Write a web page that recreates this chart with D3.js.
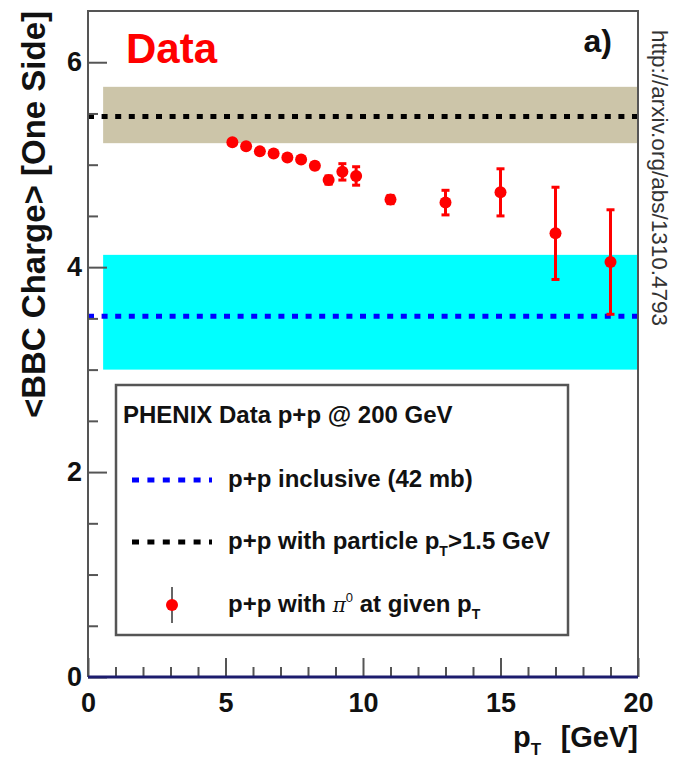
<!DOCTYPE html>
<html>
<head>
<meta charset="utf-8">
<script src="https://cdn.jsdelivr.net/npm/d3@7"></script>
<style>
body { margin: 0; background: #fff; }
text { font-family: 'Liberation Sans', Arial, Helvetica, sans-serif; font-weight: bold; fill: #111; }
</style>
</head>
<body>
<div id="chart-area"></div>
<script>
// pi0 pT bins and mean BBC charge
const ptValues = [5.25, 5.75, 6.25, 6.75, 7.25, 7.75, 8.25, 8.75, 9.25, 9.75, 11, 13, 15, 17, 19];
const bbcCharge = [5.22, 5.18, 5.13, 5.11, 5.07, 5.05, 4.99, 4.85, 4.93, 4.89, 4.66, 4.63, 4.73, 4.33, 4.05];
const chargeErr = [0.02, 0.02, 0.02, 0.02, 0.02, 0.02, 0.03, 0.04, 0.08, 0.09, 0.04, 0.12, 0.23, 0.45, 0.51];

// reference levels: inclusive and particle pT > 1.5 GeV
const bandNames = ['p+p inclusive (42 mb)', 'p+p with particle pT>1.5 GeV'];
const bandMean = [3.52, 5.47];
const bandLow = [3.0, 5.21];
const bandHigh = [4.12, 5.76];
const bandStart = 0.55;

const xTickLabels = [0, 5, 10, 15, 20];
const yTickLabels = [0, 2, 4, 6];

const bandFill = ['#00ffff', '#ccc5a9'];
const lineColor = ['#0000ff', '#000000'];

let svg = d3.select('#chart-area').append('svg').attr('width', 676).attr('height', 762);

let x = d3.scaleLinear().domain([0, 20]).range([88, 638]);
let y = d3.scaleLinear().domain([0, 6.5]).range([677, 11]);

// bands
svg.selectAll('rect.band').data(bandNames).enter().append('rect')
    .attr('class', 'band')
    .attr('x', x(bandStart))
    .attr('y', (d, i) => { return y(bandHigh[i]); })
    .attr('width', x(20) - x(bandStart))
    .attr('height', (d, i) => { return y(bandLow[i]) - y(bandHigh[i]); })
    .attr('fill', (d, i) => { return bandFill[i]; });

// dotted mean lines
svg.selectAll('line.mean').data(bandMean).enter().append('line')
    .attr('class', 'mean')
    .attr('x1', x(0))
    .attr('x2', x(20))
    .attr('y1', (d) => { return y(d); })
    .attr('y2', (d) => { return y(d); })
    .attr('stroke', (d, i) => { return lineColor[i]; })
    .attr('stroke-width', 5)
    .attr('stroke-dasharray', '6 7.6');

// error bars
let points = svg.append('g');
ptValues.forEach((pt, i) => {
    let cx = x(pt);
    let top = y(bbcCharge[i] + chargeErr[i]);
    let bot = y(bbcCharge[i] - chargeErr[i]);
    points.append('line').attr('x1', cx).attr('x2', cx).attr('y1', top).attr('y2', bot)
        .attr('stroke', '#ff0000').attr('stroke-width', 3);
    [top, bot].forEach((yy) => {
        points.append('line').attr('x1', cx - 4).attr('x2', cx + 4).attr('y1', yy).attr('y2', yy)
            .attr('stroke', '#ff0000').attr('stroke-width', 3);
    });
});

points.selectAll('circle').data(ptValues).enter().append('circle')
    .attr('cx', (d) => { return x(d); })
    .attr('cy', (d, i) => { return y(bbcCharge[i]); })
    .attr('r', 6)
    .attr('fill', '#ff0000');

// axes
let yMajor = d3.axisLeft(y).tickValues(yTickLabels).tickSize(-19).tickPadding(6).tickFormat(d3.format('d'));
let yMinor = d3.axisLeft(y).tickValues(d3.range(0.5, 6.5, 0.5).filter((v) => { return v % 2 !== 0; }))
    .tickSize(-10).tickFormat('');
let xMajor = d3.axisBottom(x).tickValues(xTickLabels).tickSize(-19).tickPadding(16).tickFormat(d3.format('d'));
let xMinor = d3.axisBottom(x).tickValues(d3.range(1, 20, 1).filter((v) => { return v % 5 !== 0; }))
    .tickSize(-10).tickFormat('');

[yMajor, yMinor].forEach((ax) => {
    svg.append('g').attr('class', 'axis').attr('transform', 'translate(88,0)').call(ax);
});
[xMajor, xMinor].forEach((ax) => {
    svg.append('g').attr('class', 'axis').attr('transform', 'translate(0,677)').call(ax);
});
svg.selectAll('.axis .domain').remove();
svg.selectAll('.axis line').attr('stroke', '#555').attr('stroke-width', 2);
svg.selectAll('.axis text').attr('font-size', 27).attr('fill', '#111')
    .style('font-family', "'Liberation Sans', Arial, sans-serif").style('font-weight', 'bold');

// frame
svg.append('path')
    .attr('d', 'M' + x(0) + ',' + y(0) + 'V' + y(6.5) + 'H' + x(20) + 'V' + y(0))
    .attr('fill', 'none').attr('stroke', '#555').attr('stroke-width', 2);
svg.append('line')
    .attr('x1', x(0)).attr('x2', x(20)).attr('y1', y(0)).attr('y2', y(0))
    .attr('stroke', '#1c1c6e').attr('stroke-width', 3);

// titles
svg.append('text').attr('x', 126).attr('y', 63).attr('font-size', 42)
    .style('fill', '#ff0000').text('Data');
svg.append('text').attr('x', 612).attr('y', 52).attr('font-size', 32)
    .attr('text-anchor', 'end').text('a)');

svg.append('text').attr('transform', 'translate(45,11) rotate(-90)')
    .attr('text-anchor', 'end').attr('font-size', 33).text('<BBC Charge> [One Side]');

svg.append('text').attr('transform', 'translate(652,30) rotate(90)')
    .attr('font-size', 22.5).style('font-weight', 'normal').style('fill', '#333')
    .text('http://arxiv.org/abs/1310.4793');

let xTitle = svg.append('text').attr('x', 513).attr('y', 747).attr('font-size', 29);
xTitle.append('tspan').text('p');
xTitle.append('tspan').attr('dy', 8).attr('font-size', 17).text('T');
svg.append('text').attr('x', 638).attr('y', 747).attr('font-size', 29)
    .attr('text-anchor', 'end').text('[GeV]');

// legend
let legend = svg.append('g');
legend.append('rect').attr('x', 116).attr('y', 385).attr('width', 452).attr('height', 250)
    .attr('fill', '#fff').attr('stroke', '#555').attr('stroke-width', 2.5);
legend.append('text').attr('x', 123).attr('y', 423).attr('font-size', 24)
    .text('PHENIX Data p+p @ 200 GeV');

let rowY = [480, 542];
rowY.forEach((ry, i) => {
    legend.append('line').attr('x1', 132).attr('x2', 212).attr('y1', ry).attr('y2', ry)
        .attr('stroke', lineColor[i]).attr('stroke-width', 5).attr('stroke-dasharray', '7 8.4');
});
legend.append('text').attr('x', 228).attr('y', 487).attr('font-size', 24)
    .text('p+p inclusive (42 mb)');
let row2 = legend.append('text').attr('x', 228).attr('y', 549).attr('font-size', 24);
row2.append('tspan').text('p+p with particle p');
row2.append('tspan').attr('dy', 7).attr('font-size', 14).text('T');
row2.append('tspan').attr('dy', -7).text('>1.5 GeV');

legend.append('line').attr('x1', 172).attr('x2', 172).attr('y1', 587).attr('y2', 623)
    .attr('stroke', '#666').attr('stroke-width', 2);
legend.append('circle').attr('cx', 172).attr('cy', 605).attr('r', 6).attr('fill', '#ff0000');
let row3 = legend.append('text').attr('x', 228).attr('y', 612).attr('font-size', 24);
row3.append('tspan').text('p+p with ');
row3.append('tspan').style('font-family', "'DejaVu Serif', serif").style('font-weight', 'normal')
    .style('font-style', 'italic').attr('font-size', 20).text('\u03c0');
row3.append('tspan').attr('dy', -10).attr('font-size', 13).style('font-weight', 'normal').text('0');
row3.append('tspan').attr('dy', 10).text(' at given p');
row3.append('tspan').attr('dy', 7).attr('font-size', 14).text('T');
</script>
</body>
</html>
